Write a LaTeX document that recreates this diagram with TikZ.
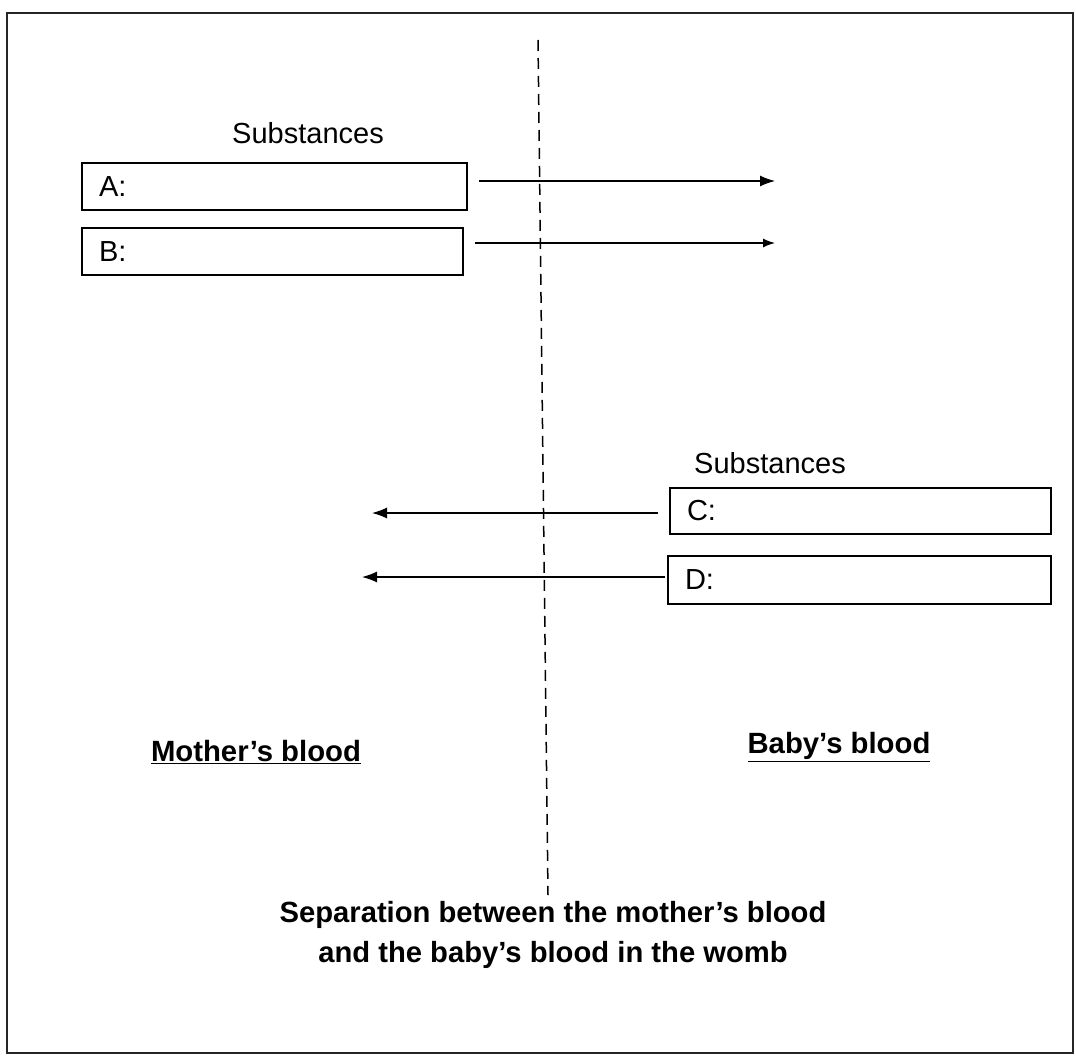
\documentclass[tikz,border=0pt]{standalone}
\usepackage{fontspec}
\setmainfont{Liberation Sans}
\usetikzlibrary{arrows.meta,positioning}

\begin{document}
\begin{tikzpicture}[x=1pt, y=-1pt, >={Latex[length=15pt,width=11pt]},
  subbox/.style={draw, line width=2pt, anchor=north west, minimum height=47pt,
    inner xsep=17pt, align=left, font=\fontsize{29}{34}\selectfont},
  flow/.style={->, line width=1.3pt, shorten <=11pt},
  side/.style={font=\bfseries\fontsize{29.3}{34}\selectfont}]
  \useasboundingbox (0,0) rectangle (1076,1057);
  % Outer frame
  \draw[line width=2pt, black!85] (7,13) rectangle (1073,1053);

  % Separation between the two blood streams
  \coordinate (divtop) at (538,40);
  \coordinate (divbot) at (548,895);
  \draw[line width=1.5pt, dash pattern=on 11pt off 7pt] (divtop) -- (divbot);

  % Mother -> baby
  \node[font=\fontsize{29}{34}\selectfont] (subsab) at (308,133) {Substances};
  \node[subbox, text width=351pt] (A) at (81,162) {A:};
  \node[subbox, text width=347pt] (B) at (81,227) {B:};
  \coordinate (aend) at (775,181);
  \coordinate (bend) at (775,243);
  \draw[flow] (A.east |- aend) -- (aend);
  \draw[flow, >={Latex[length=12pt,width=9pt]}] (B.east |- bend) -- (bend);

  % Baby -> mother
  \node[font=\fontsize{29}{34}\selectfont] (subscd) at (770,463) {Substances};
  \node[subbox, text width=347pt, minimum height=46pt] (C) at (669,487) {C:};
  \node[subbox, text width=349pt, minimum height=48pt] (D) at (667,555) {D:};
  \coordinate (cend) at (372,513);
  \coordinate (dend) at (362,577);
  \draw[flow] (C.west |- cend) -- (cend);
  \draw[flow, shorten <=2pt] (D.west |- dend) -- (dend);

  % Sides
  \node[side] (mother) at (256,752) {\underline{Mother's blood}};
  \node[side] (baby) at (839,747) {\underline{Baby's blood}};

  \node[align=center, font=\bfseries\fontsize{29.2}{40}\selectfont] (caption) at (553,935)
    {Separation between the mother's blood\\and the baby's blood in the womb};
\end{tikzpicture}
\end{document}
